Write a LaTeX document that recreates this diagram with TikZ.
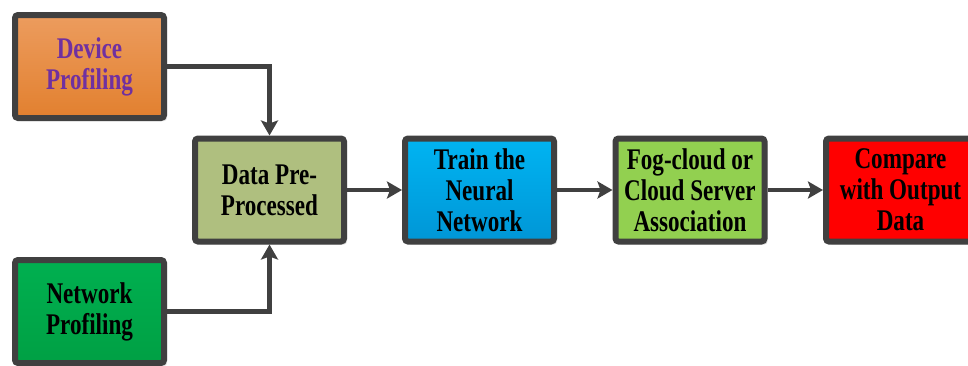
\documentclass[tikz,border=0pt]{standalone}
\usepackage{fontspec}
\setmainfont{Liberation Serif}[FakeStretch=0.77]
\usetikzlibrary{arrows.meta,shadows}
\definecolor{bord}{HTML}{404040}
\definecolor{orgtop}{HTML}{EC9C5E}
\definecolor{orgbot}{HTML}{E2802F}
\definecolor{grntop}{HTML}{00B050}
\definecolor{grnbot}{HTML}{00A044}
\definecolor{olive}{HTML}{AFBF7F}
\definecolor{blutop}{HTML}{00B4F2}
\definecolor{blubot}{HTML}{0096D6}
\definecolor{lime}{HTML}{92D050}
\definecolor{redbox}{HTML}{FF0000}
\definecolor{purp}{HTML}{7030A0}
\begin{document}
\begin{tikzpicture}[x=1pt,y=-1pt,
  box/.style={draw=bord, line width=6pt, rounded corners=3pt,
    minimum width=149pt, minimum height=103pt, inner sep=0pt,
    align=center, font=\fontsize{30}{31}\selectfont\bfseries,
    drop shadow={shadow xshift=3pt, shadow yshift=-3pt, opacity=0.25, fill=gray}},
  conn/.style={draw=bord, line width=4.5pt,
    -{Stealth[length=15pt,width=17pt,inset=3pt]}}]
\useasboundingbox (0,0) rectangle (968,365);
\node[box, top color=orgtop, bottom color=orgbot, text=purp] (dev) at (89.5,66.5) {Device\\Profiling};
\node[box, top color=grntop, bottom color=grnbot] (net) at (89.5,311.5) {Network\\Profiling};
\node[box, fill=olive] (data) at (269.5,190) {Data Pre-\\Processed};
\node[box, top color=blutop, bottom color=blubot] (train) at (479.5,190) {Train the\\Neural\\Network};
\node[box, fill=lime] (fog) at (690,190) {Fog-cloud or\\Cloud Server\\Association};
\node[box, fill=redbox] (cmp) at (900.5,190) {Compare\\with Output\\Data};
\draw[conn] (dev.east) -| (data.north);
\draw[conn] (net.east) -| (data.south);
\draw[conn] (data) -- (train);
\draw[conn] (train) -- (fog);
\draw[conn] (fog) -- (cmp);
\end{tikzpicture}
\end{document}
